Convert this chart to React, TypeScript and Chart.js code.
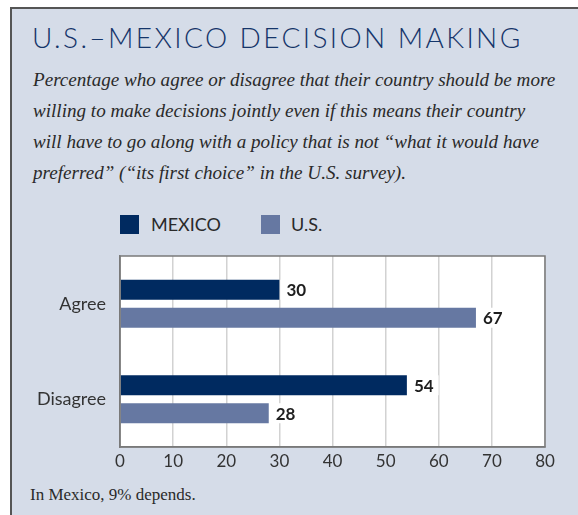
import React, { useEffect, useRef } from "react";
import { Chart, registerables } from "chart.js";

Chart.register(...registerables);

const categories = ["Agree", "Disagree"];
const seriesNames = ["MEXICO", "U.S."];
const mexicoValues = [30, 54];
const usValues = [67, 28];
const xMin = 0;
const xMax = 80;
const xStep = 10;

const titleText = "U.S.\u2013MEXICO DECISION MAKING";
const subtitleLines = [
  "Percentage who agree or disagree that their country should be more",
  "willing to make decisions jointly even if this means their country",
  "will have to go along with a policy that is not \u201cwhat it would have",
  "preferred\u201d (\u201cits first choice\u201d in the U.S. survey).",
];
const footnote = "In Mexico, 9% depends.";

const NAVY = "#002a60";
const STEEL = "#6678a2";
const PANEL = "#d5dce8";
const SANS = "Lato, 'DejaVu Sans', sans-serif";
const SERIF = "'Liberation Serif', 'DejaVu Serif', serif";

const labelPlugin = {
  id: "valueLabels",
  afterDatasetsDraw(chart: any) {
    const ctx = chart.ctx;
    ctx.save();
    ctx.font = `bold 17px ${SANS}`;
    ctx.textBaseline = "middle";
    ctx.textAlign = "left";
    chart.data.datasets.forEach((ds: any, di: number) => {
      const meta = chart.getDatasetMeta(di);
      meta.data.forEach((bar: any, i: number) => {
        const txt = String(ds.data[i]);
        const w = ctx.measureText(txt).width;
        const h = bar.height || 20;
        const x = bar.x + 7;
        ctx.fillStyle = "#ffffff";
        ctx.fillRect(bar.x + 1, bar.y - h / 2, w + 11, h);
        ctx.fillStyle = "#1e1e1e";
        ctx.fillText(txt, x, bar.y + 1);
      });
    });
    ctx.restore();
  },
};

const framePlugin = {
  id: "frame",
  beforeDraw(chart: any) {
    const { ctx, chartArea: a } = chart;
    ctx.save();
    ctx.fillStyle = "#ffffff";
    ctx.fillRect(a.left, a.top, a.right - a.left, a.bottom - a.top);
    ctx.restore();
  },
  afterDraw(chart: any) {
    const { ctx, chartArea: a } = chart;
    ctx.save();
    ctx.strokeStyle = "#7a7a7a";
    ctx.lineWidth = 1.5;
    ctx.strokeRect(a.left, a.top, a.right - a.left, a.bottom - a.top);
    ctx.restore();
  },
};

export default function App() {
  const canvasRef = useRef<HTMLCanvasElement>(null);

  useEffect(() => {
    if (!canvasRef.current) return;
    const chart = new Chart(canvasRef.current, {
      type: "bar",
      data: {
        labels: categories,
        datasets: [
          {
            label: seriesNames[0],
            data: mexicoValues,
            backgroundColor: NAVY,
            categoryPercentage: 0.586,
            barPercentage: 0.714,
          },
          {
            label: seriesNames[1],
            data: usValues,
            backgroundColor: STEEL,
            categoryPercentage: 0.586,
            barPercentage: 0.714,
          },
        ],
      },
      options: {
        indexAxis: "y",
        animation: false,
        responsive: false,
        maintainAspectRatio: false,
        layout: { padding: { top: 11, right: 33, left: 0, bottom: 0 } },
        plugins: {
          legend: { display: false },
          tooltip: { enabled: false },
          title: { display: false },
        },
        scales: {
          x: {
            min: xMin,
            max: xMax,
            ticks: {
              stepSize: xStep,
              color: "#333333",
              font: { family: SANS, size: 17 },
              padding: 4,
            },
            grid: { color: "#d2d2d2", lineWidth: 1.5, drawTicks: false },
            border: { display: true, color: "#7a7a7a", width: 1.5 },
            afterFit(scale: any) {
              scale.height = 38;
              scale.paddingLeft = 0;
              scale.paddingRight = 0;
            },
          },
          y: {
            ticks: {
              color: "#333333",
              font: { family: SANS, size: 18 },
              padding: 14,
            },
            grid: { display: false, drawTicks: false },
            border: { display: true, color: "#7a7a7a", width: 1.5 },
            afterFit(scale: any) {
              scale.width = 110;
              scale.paddingTop = 0;
              scale.paddingBottom = 0;
            },
          },
        },
      } as any,
      plugins: [framePlugin, labelPlugin],
    });
    return () => chart.destroy();
  }, []);

  return (
    <div
      style={{
        position: "absolute",
        left: 0,
        top: 0,
        width: 578,
        height: 515,
        background: "#ffffff",
        overflow: "hidden",
      }}
    >
      <div
        style={{
          position: "absolute",
          left: 10,
          top: 7,
          width: 568,
          height: 508,
          background: PANEL,
          borderTop: "2px solid #555",
          borderLeft: "2px solid #555",
          boxSizing: "border-box",
        }}
      />
      <div
        style={{
          position: "absolute",
          left: 32,
          top: 18,
          fontFamily: SANS,
          fontWeight: 300,
          fontSize: 28,
          letterSpacing: 2.4,
          color: "#15356a",
          whiteSpace: "nowrap",
          lineHeight: "38px",
        }}
      >
        {titleText}
      </div>
      <div
        style={{
          position: "absolute",
          left: 33,
          top: 64,
          fontFamily: SERIF,
          fontStyle: "italic",
          fontSize: 19.1,
          color: "#2a2a2a",
          lineHeight: "31px",
          whiteSpace: "nowrap",
        }}
      >
        {subtitleLines.map((l, i) => (
          <div key={i}>{l}</div>
        ))}
      </div>
      <div
        style={{
          position: "absolute",
          left: 120,
          top: 213,
          display: "flex",
          alignItems: "center",
          fontFamily: SANS,
          fontSize: 18,
          color: "#2a2a2a",
        }}
      >
        <span style={{ width: 19, height: 19, background: NAVY, display: "inline-block" }} />
        <span style={{ marginLeft: 12, width: 110, display: "inline-block" }}>{seriesNames[0]}</span>
        <span style={{ width: 19, height: 19, background: STEEL, display: "inline-block" }} />
        <span style={{ marginLeft: 11 }}>{seriesNames[1]}</span>
      </div>
      <canvas
        ref={canvasRef}
        width={568}
        height={240}
        style={{ position: "absolute", left: 10, top: 245, width: 568, height: 240 }}
      />
      <div
        style={{
          position: "absolute",
          left: 30,
          top: 485,
          fontFamily: SERIF,
          fontSize: 17,
          color: "#2a2a2a",
          whiteSpace: "nowrap",
          lineHeight: "20px",
        }}
      >
        {footnote}
      </div>
    </div>
  );
}
